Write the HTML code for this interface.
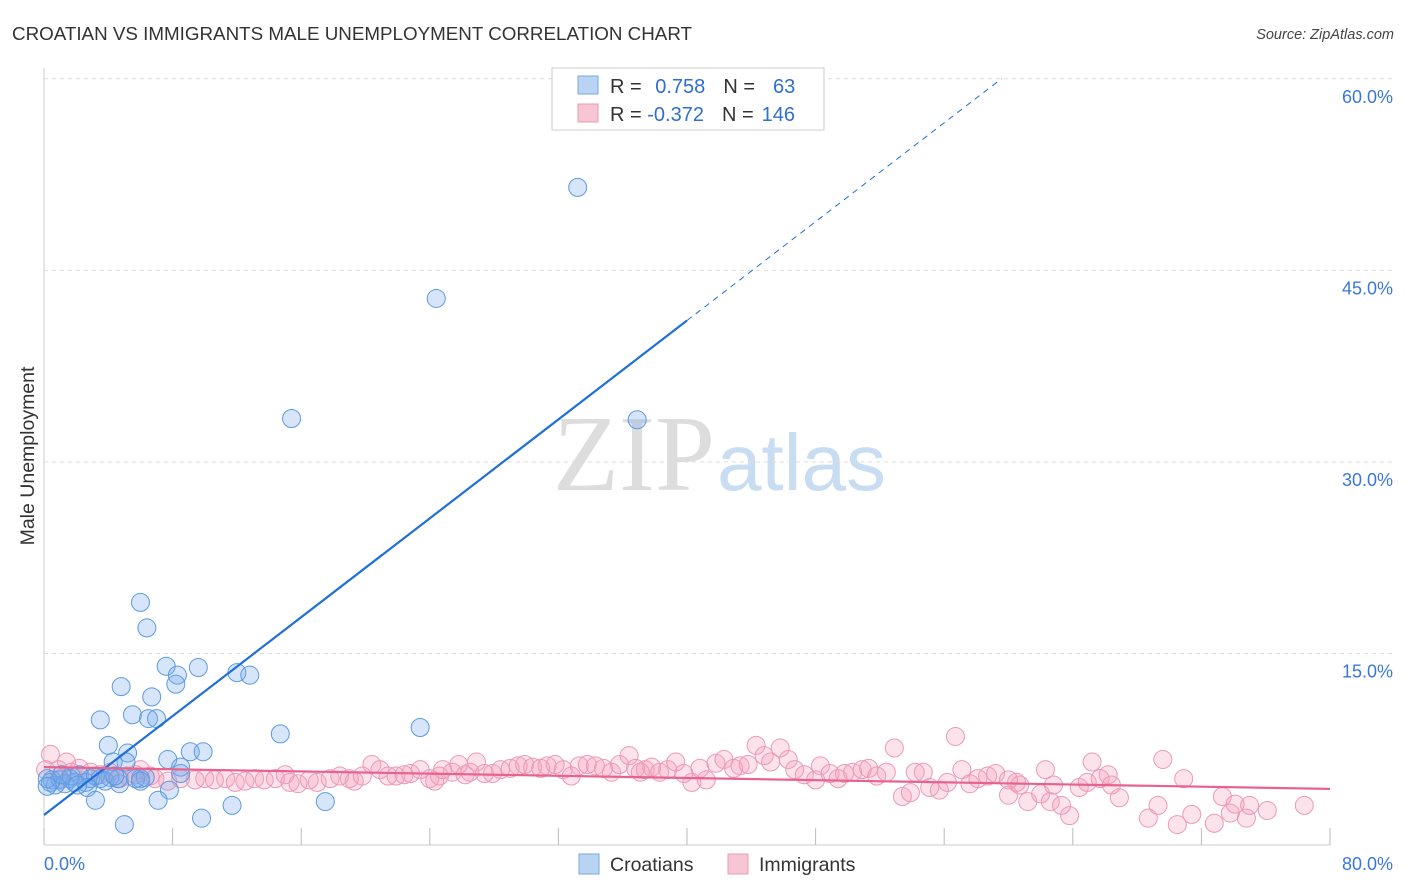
<!DOCTYPE html>
<html><head><meta charset="utf-8"><style>
body{margin:0;background:#fff;font-family:"Liberation Sans",sans-serif;}
svg{display:block}
</style></head><body>
<svg id="chart" width="1406" height="892">
<text x="12" y="40" font-size="18.8" fill="#333">CROATIAN VS IMMIGRANTS MALE UNEMPLOYMENT CORRELATION CHART</text>
<text x="1394" y="39" font-size="14.5" fill="#444" font-style="italic" text-anchor="end">Source: ZipAtlas.com</text>
<text x="0" y="0" transform="translate(34,456) rotate(-90)" font-size="19.5" fill="#333" text-anchor="middle">Male Unemployment</text>
<g><text x="553" y="490" font-family="Liberation Serif,serif" font-size="108" fill="#ddd">ZIP</text><text x="717" y="490" font-size="80" fill="#c8dcf2">atlas</text></g>
<g id="grid"></g><g id="pts"></g><g id="lines"></g>
<g>
<rect x="552" y="68" width="272" height="62" fill="#fff" stroke="#ccc"/>
<rect x="578" y="76" width="20" height="18" fill="#b9d3f3" stroke="#7aaae6"/>
<rect x="578" y="104" width="20" height="18" fill="#f7c6d5" stroke="#ec9bb6"/>
<text x="610" y="93" font-size="20" fill="#333">R = <tspan fill="#2f6fd0" dx="8">0.758</tspan><tspan fill="#333" dx="18">N =</tspan><tspan fill="#2f6fd0" dx="18">63</tspan></text>
<text x="610" y="121" font-size="20" fill="#333">R = <tspan fill="#2f6fd0">-0.372</tspan><tspan fill="#333" dx="18">N =</tspan><tspan fill="#2f6fd0" dx="8">146</tspan></text>
</g>
<g>
<rect x="579" y="854" width="20" height="20" fill="#b9d3f3" stroke="#7aaae6"/>
<text x="610" y="871" font-size="19.5" fill="#333">Croatians</text>
<rect x="728" y="854" width="20" height="20" fill="#f7c6d5" stroke="#ec9bb6"/>
<text x="759" y="871" font-size="19.5" fill="#333">Immigrants</text>
</g>
</svg>
<script>
const yTicks=[15,30,45,60];
const yTickLabels=["15.0%","30.0%","45.0%","60.0%"];
const xTickVals=[0,8,16,24,32,40,48,56,64,72,80];
const blueX=[33.2,24.4,15.4,36.9,6.0,6.4,7.6,9.6,8.3,8.2,4.8,12.0,12.8,6.7,3.5,5.5,6.5,7.0,23.4,14.7,4.0,5.2,9.1,9.9,7.7,8.5,4.3,5.1,8.5,6.0,0.5,1.0,1.6,2.2,2.9,3.5,4.1,4.7,1.3,1.9,0.7,2.6,3.2,3.8,4.6,5.7,6.3,2.7,7.8,3.2,7.1,17.5,11.7,9.8,5.0,0.4,0.2,1.7,2.1,4.4,1.1,0.2,6.0];
const blueY=[51.5,42.8,33.4,33.3,19.0,17.0,14.0,13.9,13.3,12.6,12.4,13.5,13.3,11.6,9.8,10.2,9.9,9.9,9.2,8.7,7.8,7.2,7.3,7.3,6.7,6.1,6.5,6.5,5.6,5.2,5.1,5.1,5.2,5.5,5.2,5.2,5.3,4.8,4.8,4.9,4.7,4.9,5.4,5.0,5.2,5.2,5.3,4.5,4.3,3.5,3.5,3.4,3.1,2.1,1.6,4.9,5.2,5.4,4.7,5.4,5.5,4.6,5.0];
const pinkX=[0.4,1.4,0.9,2.2,2.9,3.5,4.1,4.7,5.7,6.0,6.9,7.7,8.5,9.4,10.0,10.6,11.3,11.9,12.5,13.1,13.7,14.4,15.0,15.8,16.5,17.0,17.8,18.4,19.0,19.3,19.8,20.4,20.9,21.4,21.9,22.4,22.8,23.4,24.0,24.3,24.8,25.4,25.8,26.2,26.9,27.4,27.9,28.4,29.0,29.5,29.9,30.4,30.9,31.3,31.8,32.3,32.8,33.3,33.8,34.3,34.8,35.3,35.8,36.4,36.8,37.4,37.8,38.3,38.8,39.3,39.8,40.3,40.8,41.2,41.8,42.3,42.9,43.3,43.8,44.3,44.8,45.2,45.8,46.3,46.7,47.3,48.0,48.3,48.9,49.4,49.8,50.3,50.9,51.3,51.8,52.4,52.9,53.4,53.9,54.2,54.7,55.1,55.7,56.2,56.7,57.1,57.6,58.1,58.7,59.2,60.0,60.5,60.7,61.2,62.0,62.3,62.6,63.3,63.8,64.4,64.9,65.2,65.7,66.2,66.9,68.7,69.3,69.6,70.5,70.9,71.4,72.8,73.3,73.8,74.1,74.8,75.0,78.4,0.1,1.0,1.7,5.2,6.6,15.3,24.6,26.5,37.1,66.4,76.1,60.0,62.8];
const pinkY=[7.1,6.5,5.9,6.0,5.7,5.5,5.7,5.2,5.5,5.9,5.2,5.0,5.2,5.1,5.2,5.1,5.2,4.9,5.0,5.2,5.1,5.2,5.5,4.8,5.1,4.9,5.2,5.4,5.2,5.0,5.4,6.3,5.9,5.4,5.4,5.5,5.6,5.9,5.2,5.0,5.9,5.7,6.3,5.5,6.5,5.6,5.6,5.9,6.0,6.2,6.3,6.1,6.0,6.2,6.3,5.9,5.4,6.2,6.3,6.2,6.0,5.7,6.3,7.0,6.0,5.9,6.1,5.7,5.9,6.5,5.6,4.9,6.0,5.1,6.4,6.7,6.0,6.2,6.3,7.8,7.0,6.5,7.6,6.7,5.9,5.5,5.1,6.2,5.6,5.2,5.6,5.7,5.9,6.0,5.4,5.7,7.6,3.8,4.1,5.7,5.7,4.5,4.3,4.9,8.5,5.9,4.8,5.2,5.4,5.6,3.9,4.9,4.7,3.4,4.0,5.9,3.4,3.1,2.3,4.5,4.9,6.5,5.2,5.5,3.7,2.1,3.1,6.7,1.6,5.2,2.4,1.7,3.8,2.5,3.2,2.1,3.1,3.1,5.9,5.2,5.7,5.4,5.4,4.9,5.4,5.7,5.7,4.7,2.7,5.1,4.7];
const blueFit=[2.35,0.968];
const pinkFit=[6.1,-0.0213];
const NS='http://www.w3.org/2000/svg';
const X=v=>44+v*16.075, Y=v=>845-v*12.77;
function mk(t,a,p){const e=document.createElementNS(NS,t);for(const k in a)e.setAttribute(k,a[k]);p.appendChild(e);return e;}
const grid=document.getElementById('grid');
mk('line',{x1:44,y1:68,x2:44,y2:845,stroke:'#ccc'},grid);
mk('line',{x1:44,y1:845,x2:1330,y2:845,stroke:'#ccc'},grid);
yTicks.forEach((v,i)=>{
 const l=mk('line',{x1:44,y1:Y(v),x2:1393,y2:Y(v),stroke:'#ddd','stroke-dasharray':'4,4'},grid);
 
 
 const t=mk('text',{x:1393,y:Y(v)+24,'font-size':18,fill:'#3a78d8','text-anchor':'end'},grid);
 t.textContent=yTickLabels[i];
 
 
});
xTickVals.forEach(v=>{
 const l=mk('line',{x1:X(v),y1:828,x2:X(v),y2:845,stroke:'#bbb'},grid);
 
 
});
let t=mk('text',{x:44,y:870,'font-size':18,fill:'#3a78d8'},grid);t.textContent='0.0%';


t=mk('text',{x:1393,y:870,'font-size':18,fill:'#3a78d8','text-anchor':'end'},grid);t.textContent='80.0%';


const pts=document.getElementById('pts');
pinkX.forEach((x,i)=>{const c=mk('circle',{cx:X(x),cy:Y(pinkY[i]),r:9,fill:'rgba(244,160,188,0.3)',stroke:'#eb9ab5','stroke-width':1},pts);
 
 });
blueX.forEach((x,i)=>{const c=mk('circle',{cx:X(x),cy:Y(blueY[i]),r:9,fill:'rgba(120,170,235,0.3)',stroke:'#5d9be2','stroke-width':1},pts);
 
 });
const lines=document.getElementById('lines');
const bf=x=>blueFit[0]+blueFit[1]*x, pf=x=>pinkFit[0]+pinkFit[1]*x;
let l=mk('line',{x1:X(0),y1:Y(bf(0)),x2:X(40),y2:Y(bf(40)),stroke:'#1f6fd8','stroke-width':2.2},lines);


const xe=(60-blueFit[0])/blueFit[1];
l=mk('line',{x1:X(40),y1:Y(bf(40)),x2:X(xe),y2:Y(60),stroke:'#1f6fd8','stroke-width':1,'stroke-dasharray':'6,5'},lines);


l=mk('line',{x1:X(0),y1:Y(pf(0)),x2:X(80),y2:Y(pf(80)),stroke:'#e8628f','stroke-width':2.2},lines);


</script>
</body></html>
